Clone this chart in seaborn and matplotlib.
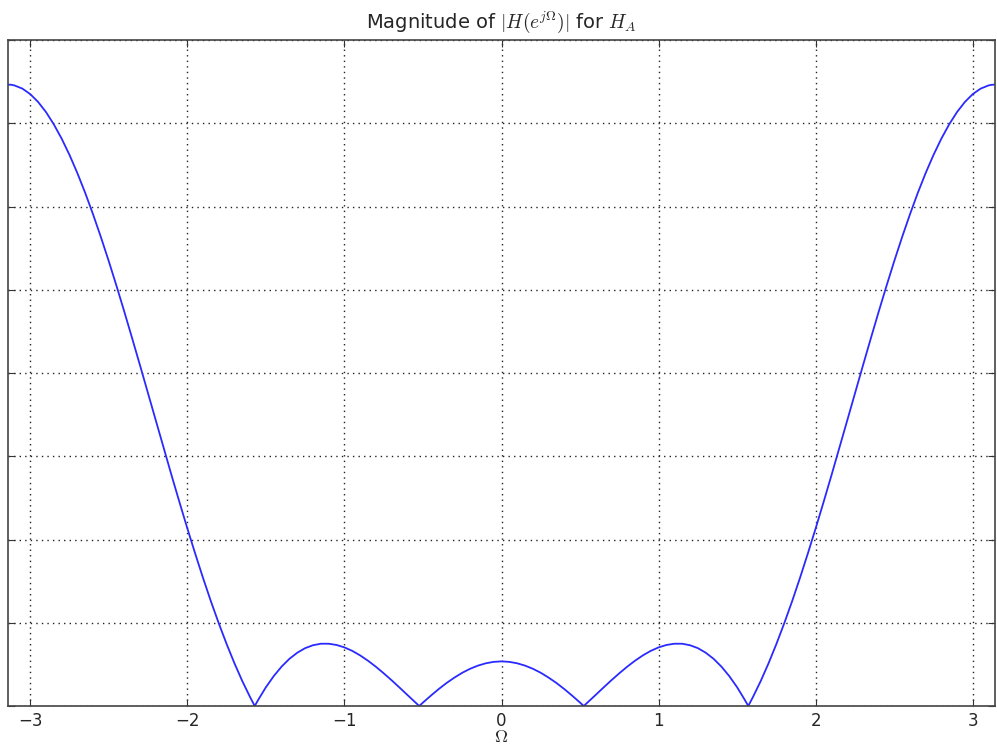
import numpy as np
import pandas as pd
import matplotlib
matplotlib.use("Agg")
import matplotlib.pyplot as plt
import seaborn as sns

# Omega samples (positive half) and magnitude values
omega_pos = [0.0, 0.05, 0.1, 0.15, 0.2, 0.25, 0.3, 0.35, 0.4, 0.45, 0.5, 0.5236,
             0.55, 0.6, 0.65, 0.7, 0.75, 0.8, 0.85, 0.9, 0.95, 1.0, 1.05, 1.1,
             1.15, 1.2, 1.25, 1.3, 1.35, 1.4, 1.45, 1.5, 1.55, 1.5708, 1.6,
             1.65, 1.7, 1.75, 1.8, 1.85, 1.9, 1.95, 2.0, 2.05, 2.1, 2.15, 2.2,
             2.25, 2.3, 2.35, 2.4, 2.45, 2.5, 2.55, 2.6, 2.65, 2.7, 2.75, 2.8,
             2.85, 2.9, 2.95, 3.0, 3.05, 3.1, 3.12, 3.14159]
mag_pos = [0.536, 0.530, 0.513, 0.485, 0.447, 0.399, 0.341, 0.276, 0.203, 0.124,
           0.041, 0.0, 0.046, 0.134, 0.223, 0.310, 0.393, 0.472, 0.544, 0.608,
           0.662, 0.704, 0.733, 0.748, 0.748, 0.730, 0.695, 0.640, 0.567, 0.473,
           0.359, 0.225, 0.070, 0.0, 0.105, 0.299, 0.513, 0.745, 0.994, 1.258,
           1.538, 1.831, 2.134, 2.448, 2.768, 3.095, 3.424, 3.754, 4.084, 4.409,
           4.729, 5.041, 5.343, 5.631, 5.905, 6.163, 6.401, 6.619, 6.815, 6.987,
           7.135, 7.256, 7.350, 7.416, 7.454, 7.462, 7.464]

omega = [-w for w in omega_pos[::-1]] + omega_pos[1:]
mag = mag_pos[::-1] + mag_pos[1:]
df = pd.DataFrame({"omega": omega, "mag": mag})

xticks = [-3, -2, -1, 0, 1, 2, 3]
yticks = [0, 1, 2, 3, 4, 5, 6, 7, 8]

sns.set_style("white")
plt.rcParams["font.family"] = ["DejaVu Sans"]
plt.rcParams["mathtext.fontset"] = "cm"

fig = plt.figure(figsize=(9.97, 7.47), dpi=100)
ax = fig.add_axes([8 / 997, 1 - 706 / 747, 987 / 997, 666 / 747])

sns.lineplot(data=df, x="omega", y="mag", color="#2a2aff", linewidth=1.3,
             sort=False, ax=ax)

ax.set_xlim(-np.pi, np.pi)
ax.set_ylim(0, 8)
ax.set_xticks(xticks)
ax.set_xticklabels(["\u22123", "\u22122", "\u22121", "0", "1", "2", "3"], fontsize=12)
ax.set_yticks(yticks)
ax.set_yticklabels([])
ax.tick_params(direction="in", length=5, width=0.8, color="#333333",
               top=True, right=True, bottom=True, left=True)
ax.tick_params(axis="x", pad=4)
ax.grid(True, color="#222222", linestyle=(0, (1, 3)), linewidth=1.0)
for s in ax.spines.values():
    s.set_color("#444444")
    s.set_linewidth(1.2)

ax.set_title(r"Magnitude of $|H(e^{j\Omega})|$ for $H_A$", fontsize=14, pad=9)
ax.set_xlabel(r"$\Omega$", fontsize=13, labelpad=-1)
ax.set_ylabel("")

fig.savefig("out.png", dpi=100)
